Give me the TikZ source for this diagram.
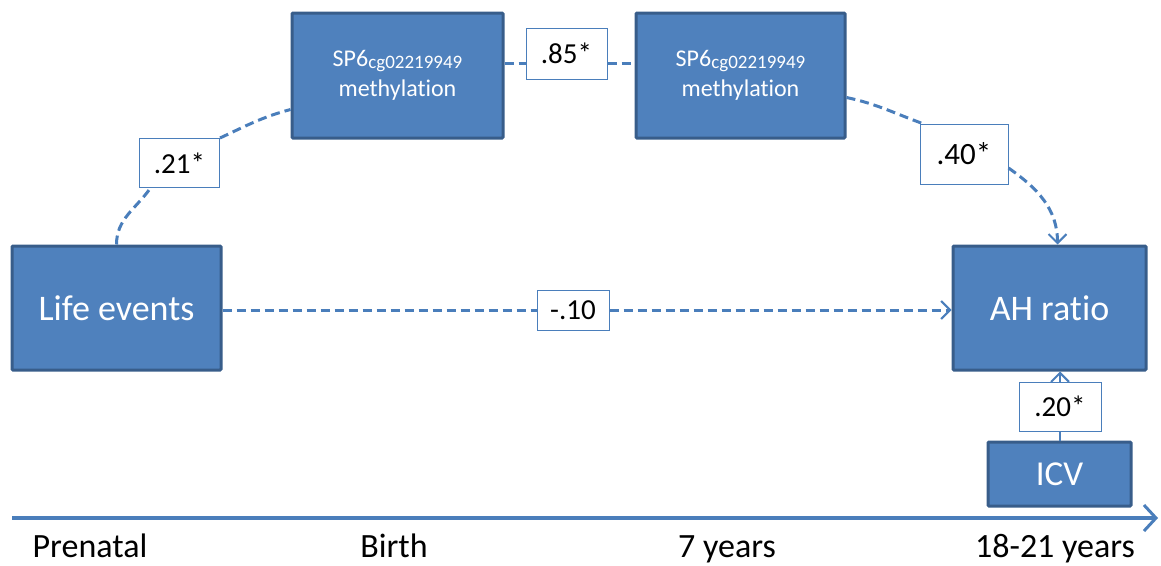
\documentclass[tikz,border=0pt]{standalone}
\usepackage{fontspec}
\setmainfont{Carlito}[RawFeature={-liga;-clig;-calt;-dlig}]
\usetikzlibrary{arrows.meta}
\definecolor{boxfill}{HTML}{4F81BD}
\definecolor{boxline}{HTML}{385D8A}
\definecolor{conncol}{HTML}{4A7EBB}
\tikzset{
  bigbox/.style={draw=boxline, line width=3pt, fill=boxfill, text=white, rounded corners=1pt, inner sep=0pt, align=center},
  labbox/.style={draw=conncol, line width=1pt, fill=white, text=black, inner sep=0pt, font=\fontsize{29}{32}\selectfont},
  conn/.style={draw=conncol, line width=3pt, dash pattern=on 9pt off 5pt},
  solidconn/.style={draw=conncol, line width=2.5pt},
  tip/.style={-{Straight Barb[length=9pt,width=18pt,line width=2pt]}},
  axislabel/.style={text=black, font=\fontsize{34}{38}\selectfont, inner sep=0pt, anchor=base}
}
\begin{document}
\begin{tikzpicture}[x=1pt,y=-1pt]
\useasboundingbox (0,0) rectangle (1161,565);
% main boxes
\node[bigbox, minimum width=209pt, minimum height=124pt, font=\fontsize{36}{40}\selectfont] (le) at (116.5,308) {Life events};
\node[bigbox, minimum width=211pt, minimum height=125pt, font=\fontsize{24}{30}\selectfont] (sp1) at (397.5,75.5) {SP6{\fontsize{19}{20}\selectfont\raisebox{-1.5pt}{cg02219949}}\\methyla{}tion};
\node[bigbox, minimum width=209pt, minimum height=125pt, font=\fontsize{24}{30}\selectfont] (sp2) at (740.5,75.5) {SP6{\fontsize{19}{20}\selectfont\raisebox{-1.5pt}{cg02219949}}\\methyla{}tion};
\node[bigbox, minimum width=193pt, minimum height=124pt, font=\fontsize{36}{40}\selectfont] (ah) at (1049.5,308) {AH ratio};
\node[bigbox, minimum width=143pt, minimum height=64pt, font=\fontsize{35}{40}\selectfont] (icv) at (1059.5,474) {ICV};
% label boxes
\node[labbox, minimum width=81pt, minimum height=51pt] (l85) at (566.5,53.5) {.85*};
\node[labbox, minimum width=80pt, minimum height=49pt] (l21) at (179.5,163) {.21*};
\node[labbox, minimum width=88pt, minimum height=60pt, font=\fontsize{31}{34}\selectfont] (l40) at (964,154) {.40*};
\node[labbox, minimum width=72pt, minimum height=40pt] (l10) at (573,310) {-.10};
\node[labbox, minimum width=82pt, minimum height=49pt] (l20) at (1060,406.5) {.20*};
% connector end points
\coordinate (a1) at ([yshift=12pt]sp1.east);
\coordinate (a2) at (l85.west |- a1);
\coordinate (b2) at ([yshift=12pt]sp2.west);
\coordinate (b1) at (l85.east |- b2);
\coordinate (c0) at ([xshift=-29pt]l21.south);
\coordinate (c1) at ([yshift=-34pt]sp1.west);
\coordinate (d1) at ([yshift=-22pt]sp2.east);
\coordinate (e1) at ([yshift=-14pt]l40.east);
\coordinate (e2) at ([xshift=8pt]ah.north);
\coordinate (f1) at (le.east |- l10.west);
\coordinate (f2) at (ah.west |- l10.east);
\coordinate (g1) at (l20.south |- icv.north);
\coordinate (g2) at (l20.north |- ah.south);
% connectors
\draw[conn] (le.north) to[out=90,in=-125] (c0);
\draw[conn] (l21.north east) to[out=25,in=195] (c1);
\draw[conn] (a1) -- (a2);
\draw[conn] (b1) -- (b2);
\draw[conn] (d1) to[out=-12,in=160] ([xshift=3pt]l40.north west);
\draw[conn,tip] (e1) to[out=-35,in=90] (e2);
\draw[conn] (f1) -- (l10.west);
\draw[conn,tip] (l10.east) -- (f2);
\draw[solidconn] (g1) -- (l20.south);
\draw[solidconn,tip] (l20.north) -- (g2);
% time axis
\coordinate (ax1) at (12,518);
\coordinate (ax2) at (1158,518);
\draw[draw=conncol, line width=3.5pt, -{Straight Barb[length=12pt,width=26pt,line width=3pt]}] (ax1) -- (ax2);
\node[axislabel] (t1) at (90,557) {Prenatal};
\node[axislabel] (t2) at (394,557) {Birth};
\node[axislabel] (t3) at (727,557) {7 years};
\node[axislabel] (t4) at (1055,557) {18-21 years};
\end{tikzpicture}
\end{document}
